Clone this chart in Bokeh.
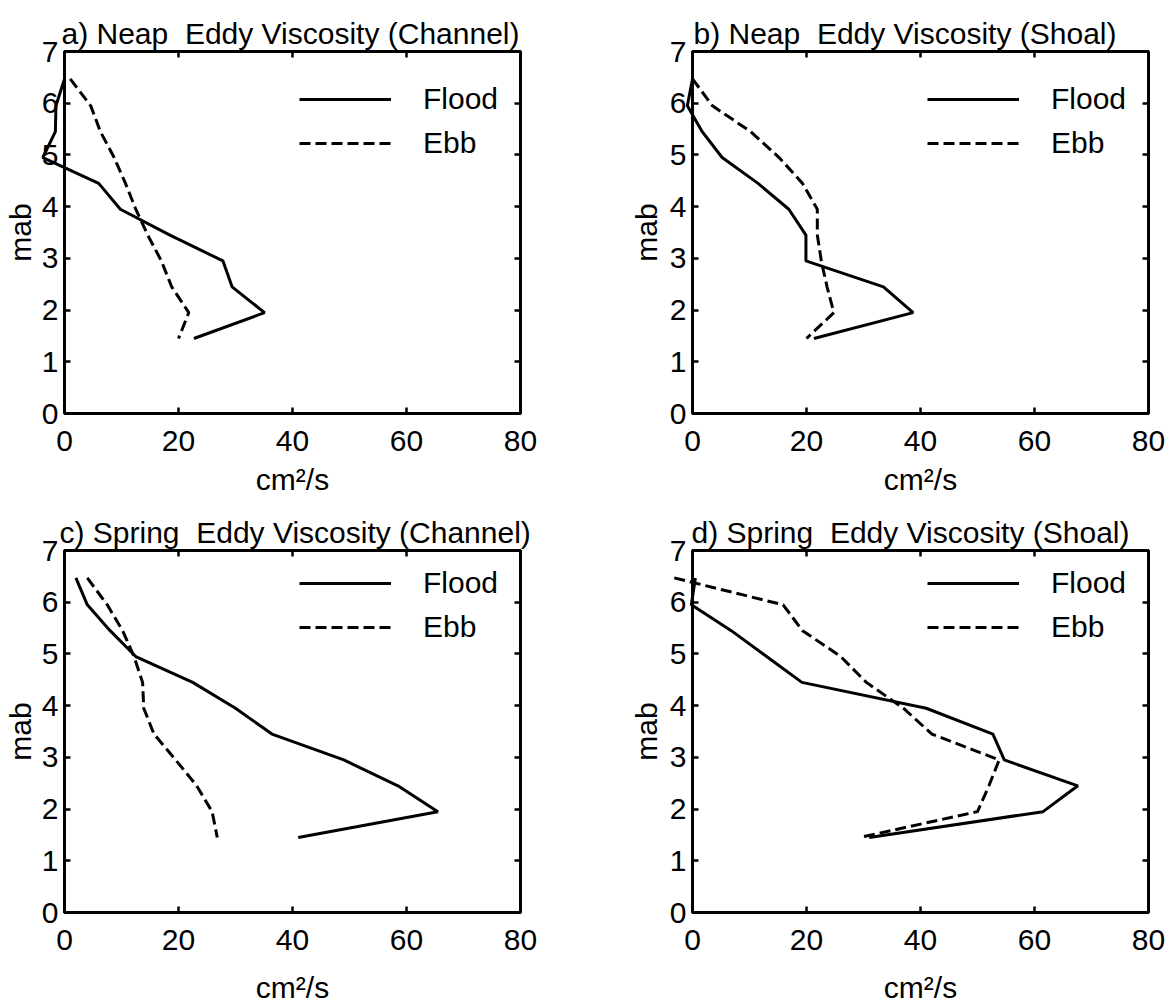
from bokeh.plotting import figure
from bokeh.models import LinearAxis, FixedTicker, Range1d, Title
from bokeh.layouts import column, row
from bokeh.embed import file_html
from bokeh.resources import INLINE

# ---- data ----
heights = [6.47, 5.95, 5.45, 4.95, 4.45, 3.95, 3.45, 2.95, 2.45, 1.95, 1.45]

neap_channel_flood = [0.0, -1.5, -1.6, -3.8, 6.0, 9.8, 18.5, 27.8, 29.4, 35.1, 22.7]
neap_channel_ebb = [1.0, 4.6, 6.3, 8.7, 10.7, 12.5, 14.6, 17.0, 18.8, 21.8, 20.0]
neap_shoal_flood = [0.0, -0.9, 1.7, 5.2, 11.5, 16.9, 19.9, 19.9, 33.5, 38.7, 21.3]
neap_shoal_ebb = [0.0, 3.5, 10.2, 15.2, 19.3, 21.9, 21.9, 22.6, 23.6, 24.8, 20.0]
spring_channel_flood = [2.0, 4.0, 8.0, 12.5, 22.5, 30.0, 36.4, 49.0, 58.5, 65.5, 41.0]
spring_channel_ebb = [4.0, 7.5, 10.2, 12.2, 13.7, 13.9, 15.7, 19.5, 23.2, 25.9, 26.8]
spring_shoal_flood = [0.5, -0.2, 6.8, 13.0, 19.2, 41.0, 52.7, 54.7, 67.6, 61.5, 31.0]
spring_shoal_ebb = [-3.2, 15.9, 19.3, 26.0, 30.5, 37.0, 42.0, 53.8, 52.0, 50.0, 29.3]

x_ticks = [0, 20, 40, 60, 80]
y_ticks = [0, 1, 2, 3, 4, 5, 6, 7]
titles = [
    "a) Neap\u00a0 Eddy Viscosity (Channel)",
    "b) Neap\u00a0 Eddy Viscosity (Shoal)",
    "c) Spring\u00a0 Eddy Viscosity (Channel)",
    "d) Spring\u00a0 Eddy Viscosity (Shoal)",
]
series_names = ["Flood", "Ebb"]
x_label = "cm\u00b2/s"
y_label = "mab"

FONT = "Liberation Sans"
FS = "30px"


def style_axis(ax, labels=True):
    ax.axis_line_width = 3
    ax.axis_line_color = "black"
    ax.major_tick_line_width = 2.5
    ax.major_tick_line_color = "black"
    ax.major_tick_in = 6
    ax.major_tick_out = 0
    ax.minor_tick_line_color = None
    if labels:
        ax.major_label_text_font = FONT
        ax.major_label_text_font_size = FS
        ax.major_label_text_color = "black"
        ax.axis_label_text_font = FONT
        ax.axis_label_text_font_size = FS
        ax.axis_label_text_font_style = "normal"
        ax.axis_label_text_color = "black"
    else:
        # mirror axis: ticks only, labels not painted
        ax.major_label_text_font_size = "1px"
        ax.major_label_text_color = None
        ax.major_label_standoff = 0


def make_panel(title, flood, ebb, left, right, top, bottom, title_offset,
               legend_vy, xlabel_standoff, ylabel_standoff):
    p = figure(frame_width=456, frame_height=362,
               x_range=Range1d(0, 80), y_range=Range1d(0, 7),
               output_backend="svg", toolbar_location=None, title=None,
               min_border_left=left, min_border_right=right,
               min_border_top=top, min_border_bottom=bottom,
               background_fill_color="white", border_fill_color="white")
    p.grid.visible = False
    p.outline_line_color = "black"
    p.outline_line_width = 3

    p.xaxis.ticker = FixedTicker(ticks=x_ticks)
    p.yaxis.ticker = FixedTicker(ticks=y_ticks)
    p.xaxis.axis_label = x_label
    p.yaxis.axis_label = y_label
    for ax in p.xaxis + p.yaxis:
        style_axis(ax)
    p.xaxis.major_label_standoff = 17
    p.xaxis.axis_label_standoff = xlabel_standoff
    p.yaxis.major_label_standoff = 6
    p.yaxis.axis_label_standoff = ylabel_standoff

    top_ax = LinearAxis(ticker=FixedTicker(ticks=x_ticks))
    style_axis(top_ax, labels=False)
    p.add_layout(top_ax, "above")
    right_ax = LinearAxis(ticker=FixedTicker(ticks=y_ticks))
    style_axis(right_ax, labels=False)
    p.add_layout(right_ax, "right")

    p.add_layout(Title(text=title, align="left", offset=title_offset,
                       text_font=FONT, text_font_size=FS,
                       text_font_style="normal", text_color="black",
                       standoff=4), "above")

    p.line(flood, heights, line_color="black", line_width=3,
           legend_label=series_names[0], level="overlay")
    p.line(ebb, heights, line_color="black", line_width=3,
           line_dash="11 5", legend_label=series_names[1], level="overlay")

    lg = p.legend[0]
    lg.location = (235, legend_vy)
    lg.glyph_width = 92
    lg.glyph_height = 30
    lg.label_height = 30
    lg.label_standoff = 32
    lg.spacing = 10
    lg.padding = 0
    lg.margin = 0
    lg.border_line_alpha = 0
    lg.background_fill_alpha = 0
    lg.label_text_font = FONT
    lg.label_text_font_size = FS
    lg.label_text_color = "black"
    return p


pa = make_panel(titles[0], neap_channel_flood, neap_channel_ebb,
                62, 66, 51, 87, -3, 253, 9, 2)
pb = make_panel(titles[1], neap_shoal_flood, neap_shoal_ebb,
                106, 23, 51, 87, 1, 253, 9, 4)
pc = make_panel(titles[2], spring_channel_flood, spring_channel_ebb,
                62, 66, 50, 91, -5, 268, 18, 2)
pd = make_panel(titles[3], spring_shoal_flood, spring_shoal_ebb,
                106, 23, 50, 91, -1, 268, 18, 4)

layout = column(row(pa, pb), row(pc, pd))
open("out.html", "w").write(file_html(layout, INLINE))
